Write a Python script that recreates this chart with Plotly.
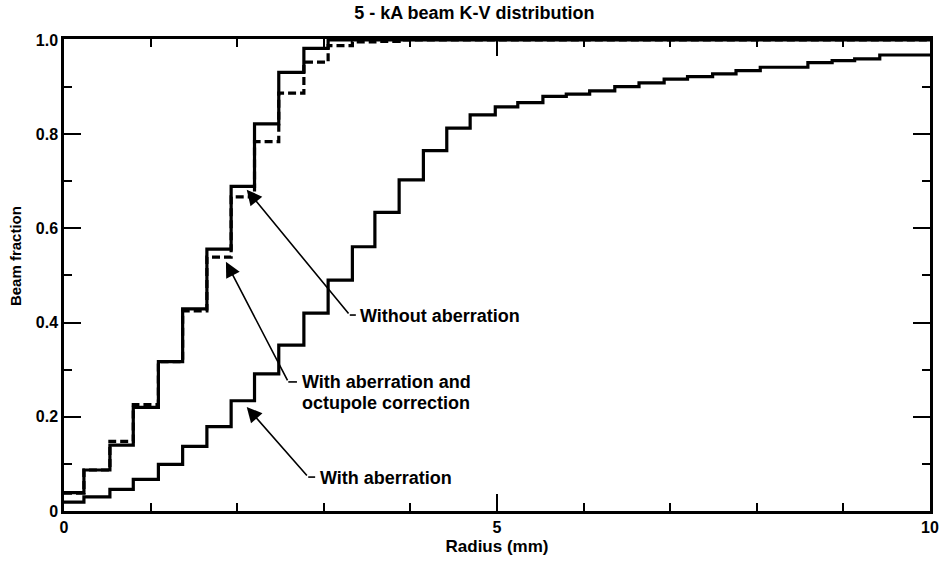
import plotly.graph_objects as go

# Start radius (mm) of each histogram bin; the last bin runs to 10 mm
radius_bins = [0.00, 0.23, 0.53, 0.80, 1.09, 1.37, 1.65, 1.93, 2.20, 2.48,
               2.77, 3.05, 3.33, 3.59, 3.87, 4.15, 4.42, 4.69, 4.98, 5.24,
               5.53, 5.80, 6.07, 6.36, 6.64, 6.93, 7.20, 7.49, 7.76, 8.04,
               8.32, 8.59, 8.87, 9.13, 9.42]
radius_end = 10.0

# Cumulative beam fraction inside each radius
without_aberration = [0.039, 0.087, 0.140, 0.220, 0.317, 0.429, 0.556, 0.689, 0.822, 0.931,
                      0.982, 1.000, 1.000, 1.000, 1.000, 1.000, 1.000, 1.000, 1.000, 1.000,
                      1.000, 1.000, 1.000, 1.000, 1.000, 1.000, 1.000, 1.000, 1.000, 1.000,
                      1.000, 1.000, 1.000, 1.000, 1.000]
octupole_corrected = [0.038, 0.087, 0.148, 0.226, 0.317, 0.425, 0.539, 0.667, 0.784, 0.887,
                      0.953, 0.988, 0.996, 0.997, 1.000, 1.000, 1.000, 1.000, 1.000, 1.000,
                      1.000, 1.000, 1.000, 1.000, 1.000, 1.000, 1.000, 1.000, 1.000, 1.000,
                      1.000, 1.000, 1.000, 1.000, 1.000]
with_aberration = [0.019, 0.030, 0.046, 0.067, 0.099, 0.137, 0.179, 0.234, 0.291, 0.352,
                   0.420, 0.490, 0.561, 0.634, 0.703, 0.765, 0.813, 0.841, 0.858, 0.867,
                   0.880, 0.885, 0.892, 0.901, 0.909, 0.917, 0.922, 0.928, 0.935, 0.942,
                   0.942, 0.952, 0.956, 0.960, 0.968]

y_tick_vals = [0, 0.2, 0.4, 0.6, 0.8, 1.0]
y_tick_text = ["0", "0.2", "0.4", "0.6", "0.8", "1.0"]
x_tick_vals = [0, 5, 10]
x_tick_text = ["0", "5", "10"]

FONT = "Liberation Sans, Arial, sans-serif"


def bold(s):
    return "<b>" + s + "</b>"


def steps(values):
    """Close the last bin at the outer radius for an hv step line."""
    return radius_bins + [radius_end], values + [values[-1]]


fig = go.Figure()

for vals, dash in [(with_aberration, "solid"),
                   (octupole_corrected, "8px,4px"),
                   (without_aberration, "solid")]:
    xs, ys = steps(vals)
    fig.add_trace(go.Scatter(
        x=xs, y=ys, mode="lines", line_shape="hv",
        line=dict(color="black", width=3.2, dash=dash),
        showlegend=False, hoverinfo="skip", cliponaxis=False,
    ))

# Callouts: (arrow tip, arrow tail, elbow end, text position, text lines)
callouts = [
    ((2.11, 0.682), (3.30, 0.416), 3.37, (3.40, 0.414), ["Without aberration"]),
    ((1.87, 0.529), (2.59, 0.274), 2.69, (2.72, 0.274),
     ["With aberration and", "octupole correction"]),
    ((2.11, 0.221), (2.82, 0.072), 2.90, (2.93, 0.070), ["With aberration"]),
]

annotations = []
shapes = []
line_gap = 0.0445  # vertical spacing between stacked text lines (data units)
for tip, tail, elbow_x, txt_pos, lines in callouts:
    annotations.append(dict(
        x=tip[0], y=tip[1], ax=tail[0], ay=tail[1],
        xref="x", yref="y", axref="x", ayref="y",
        text="", showarrow=True, arrowhead=2, arrowsize=1.9,
        arrowwidth=1.6, arrowcolor="black", standoff=0,
    ))
    shapes.append(dict(type="line", xref="x", yref="y",
                       x0=tail[0], y0=tail[1], x1=elbow_x, y1=tail[1],
                       line=dict(color="black", width=1.6)))
    for i, line in enumerate(lines):
        annotations.append(dict(
            x=txt_pos[0], y=txt_pos[1] - i * line_gap, xref="x", yref="y",
            text=bold(line), showarrow=False, xanchor="left", yanchor="middle",
            font=dict(family=FONT, size=18, color="black"),
        ))

# Vertical axis label
annotations.append(dict(
    x=-0.0566, y=0.540, xref="paper", yref="paper", textangle=-90,
    text=bold("Beam fraction"), showarrow=False,
    xanchor="center", yanchor="middle",
    font=dict(family=FONT, size=15, color="black"),
))

axis_common = dict(
    showgrid=False, zeroline=False, showline=True, linecolor="black",
    linewidth=2.5, mirror="ticks", ticks="inside", tickcolor="black",
    tickwidth=2, automargin=False,
    tickfont=dict(family=FONT, size=16, color="black"),
)

fig.update_layout(
    width=943, height=565,
    margin=dict(l=64, r=13, t=39, b=54),
    paper_bgcolor="white", plot_bgcolor="white",
    title=dict(text=bold("5 - kA beam K-V distribution"), x=0.503, xanchor="center",
               y=0.977, yanchor="middle",
               font=dict(family=FONT, size=18, color="black")),
    xaxis=dict(
        range=[0, 10], tickvals=x_tick_vals, ticktext=[bold(t) for t in x_tick_text],
        ticklen=17,
        minor=dict(dtick=1, tick0=0, ticks="inside", ticklen=8, tickwidth=2,
                   tickcolor="black", showgrid=False),
        title=dict(text=bold("Radius (mm)"), standoff=6,
                   font=dict(family=FONT, size=17, color="black")),
        **axis_common,
    ),
    yaxis=dict(
        range=[0, 1.002], tickvals=y_tick_vals, ticktext=[bold(t) for t in y_tick_text],
        ticklen=17,
        minor=dict(dtick=0.1, tick0=0, ticks="inside", ticklen=8, tickwidth=2,
                   tickcolor="black", showgrid=False),
        **axis_common,
    ),
    annotations=annotations,
    shapes=shapes,
)

fig.write_html("out.html")
